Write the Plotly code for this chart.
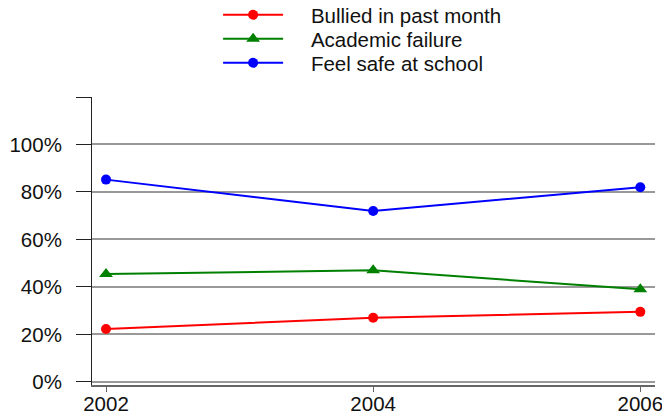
import plotly.graph_objects as go

years = [2002, 2004, 2006]
bullied = [22.3, 27.0, 29.5]
academic = [45.5, 47.0, 39.0]
feel_safe = [85.2, 72.0, 82.0]
y_ticks = [0, 20, 40, 60, 80, 100, 120]
y_labels = ["0%", "20%", "40%", "60%", "80%", "100%", ""]

fig = go.Figure()

pad = "\u00a0" * 4  # gap between legend sample and label
series = [
    ("Bullied in past month", bullied, "#ff0000", "circle", 10, "legend"),
    ("Academic failure", academic, "#008000", "triangle-up", 12, "legend2"),
    ("Feel safe at school", feel_safe, "#0000ff", "circle", 10, "legend3"),
]
for name, vals, color, sym, msize, leg in series:
    fig.add_trace(go.Scatter(
        x=years, y=vals, mode="lines+markers", name=pad + name, legend=leg,
        line=dict(color=color, width=2),
        marker=dict(color=color, symbol=sym, size=msize),
    ))

# one legend per row so the row spacing can match the original
plot_h = 414 - 97 - 29
legend_style = dict(
    x=0.224, xanchor="left", yanchor="middle",
    itemwidth=60, font=dict(size=20.5),
    bgcolor="rgba(0,0,0,0)",
)
legends = {}
for i, key in enumerate(["legend", "legend2", "legend3"]):
    row_y = 15 + 24 * i
    legends[key] = dict(legend_style, y=1 + (97 - row_y) / plot_h)

fig.update_layout(
    width=662, height=414,
    margin=dict(l=92, r=7, t=97, b=29, autoexpand=False),
    paper_bgcolor="white", plot_bgcolor="white",
    font=dict(family="Liberation Sans, Arial", size=20.5, color="#111"),
    showlegend=True,
    **legends,
    xaxis=dict(
        range=[2001.895, 2006.11], tickvals=years, ticktext=[str(y) for y in years],
        showgrid=False, zeroline=False, automargin=False,
        showline=True, linecolor="#666", linewidth=2,
        ticks="outside", ticklen=5, tickcolor="#666",
        ticklabelstandoff=-6, ticklabeloverflow="allow",
    ),
    yaxis=dict(
        range=[-1.3, 120], tickvals=y_ticks, ticktext=y_labels,
        showgrid=True, gridcolor="#999", gridwidth=1.5, zeroline=False,
        automargin=False,
        showline=True, linecolor="#222", linewidth=1,
        ticks="outside", ticklen=15, tickcolor="#222",
        ticklabelstandoff=10,
    ),
)

fig.write_html(
    "out.html",
    config={"displayModeBar": False},
    post_script="document.body.style.margin='0';",
)
